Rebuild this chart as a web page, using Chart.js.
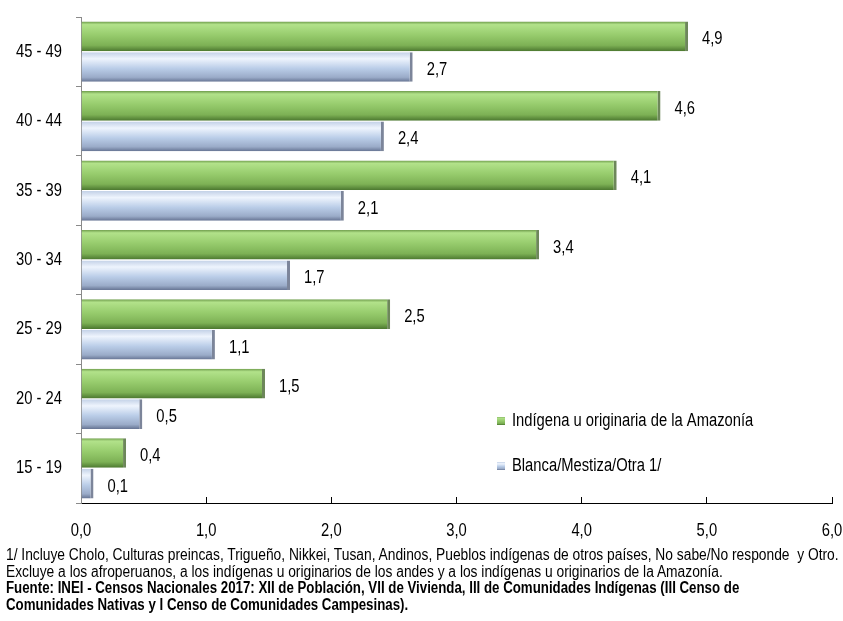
<!DOCTYPE html>
<html>
<head>
<meta charset="utf-8">
<script src="https://cdn.jsdelivr.net/npm/chart.js@4"></script>
<style>
  html, body { margin: 0; padding: 0; background: #fff; }
  #wrap { position: relative; width: 843px; height: 621px; overflow: hidden; }
  #notes {
    position: absolute; left: 6px; top: 547px; width: 1100px;
    font-family: 'Liberation Sans', Arial, sans-serif;
    font-size: 16px; line-height: 16.5px; color: #000;
    white-space: nowrap;
  }
  #notes div { transform: scaleX(0.862); transform-origin: 0 0; }
  #notes div.src { font-weight: bold; transform: scaleX(0.83); }
</style>
</head>
<body>
<div id="wrap">
  <canvas id="chart" width="843" height="621"></canvas>
  <div id="notes">
    <div>1/ Incluye Cholo, Culturas preincas, Trigueño, Nikkei, Tusan, Andinos, Pueblos indígenas de otros países, No sabe/No responde &nbsp;y Otro.</div>
    <div>Excluye a los afroperuanos, a los indígenas u originarios de los andes y a los indígenas u originarios de la Amazonía.</div>
    <div class="src">Fuente: INEI - Censos Nacionales 2017: XII de Población, VII de Vivienda, III de Comunidades Indígenas (III Censo de</div>
    <div class="src">Comunidades Nativas y I Censo de Comunidades Campesinas).</div>
  </div>
</div>
<script>
const ageGroups = ["45 - 49", "40 - 44", "35 - 39", "30 - 34", "25 - 29", "20 - 24", "15 - 19"];
// bar lengths as drawn in the picture
const amazonia = [4.85, 4.63, 4.28, 3.66, 2.47, 1.47, 0.36];
const blanca = [2.65, 2.42, 2.10, 1.67, 1.07, 0.49, 0.10];
// the numbers printed next to the bars
const amazoniaLabels = ["4,9", "4,6", "4,1", "3,4", "2,5", "1,5", "0,4"];
const blancaLabels = ["2,7", "2,4", "2,1", "1,7", "1,1", "0,5", "0,1"];
const seriesNames = ["Indígena u originaria de la Amazonía", "Blanca/Mestiza/Otra 1/"];
const xTicks = [0, 1, 2, 3, 4, 5, 6];

const FONT = "'Liberation Sans', Arial, sans-serif";
const NARROW = 0.82; // no Arial Narrow here, so squeeze the regular face

const greenStops = [[0, "#6f9d4c"], [0.1, "#b2e28a"], [0.45, "#97cc6d"], [0.8, "#7db155"], [1, "#4b772f"]];
const blueStops = [[0, "#c3d1e7"], [0.22, "#eef4fd"], [0.55, "#bacde8"], [0.85, "#9aabc8"], [1, "#667493"]];

// vertical gradient per bar, built from the bar element once it has a position
function barGradient(stops, fallback) {
  return function (ctx) {
    const el = ctx.element;
    if (!el || !el.height || isNaN(el.y)) return fallback;
    const top = el.y - el.height / 2;
    const g = ctx.chart.ctx.createLinearGradient(0, top, 0, top + el.height);
    stops.forEach(s => g.addColorStop(s[0], s[1]));
    return g;
  };
}

const fmt = v => v.toFixed(1).replace(".", ",");

function narrowText(c, text, x, y, align) {
  c.save();
  c.translate(x, y);
  c.scale(NARROW, 1);
  c.textAlign = align;
  c.fillText(text, 0, 0);
  c.restore();
}

// value labels next to the bar ends
const valueLabels = {
  id: "valueLabels",
  afterDatasetsDraw(chart) {
    const c = chart.ctx;
    c.save();
    c.font = "18px " + FONT;
    c.fillStyle = "#000";
    c.textBaseline = "middle";
    chart.data.datasets.forEach((ds, i) => {
      chart.getDatasetMeta(i).data.forEach((bar, j) => {
        narrowText(c, ds.valueLabels[j], bar.x + 14, bar.y + 3, "left");
      });
    });
    c.restore();
  }
};

// axis labels in the narrow face
const axisLabels = {
  id: "axisLabels",
  afterDraw(chart) {
    const c = chart.ctx;
    const xs = chart.scales.x, ys = chart.scales.y;
    c.save();
    c.font = "18px " + FONT;
    c.fillStyle = "#000";
    c.textBaseline = "middle";
    xTicks.forEach(v => narrowText(c, fmt(v), xs.getPixelForValue(v), xs.top + 28, "center"));
    ageGroups.forEach((lab, i) => narrowText(c, lab, ys.right - 19, ys.getPixelForValue(i), "right"));
    c.restore();
  }
};

// legend inside the plot, lower right
const insideLegend = {
  id: "insideLegend",
  afterDraw(chart) {
    const c = chart.ctx;
    const x = chart.chartArea.left + 416, ys = [421, 466];
    c.save();
    c.font = "18px " + FONT;
    c.textBaseline = "middle";
    [greenStops, blueStops].forEach((stops, i) => {
      const g = c.createLinearGradient(0, ys[i] - 4, 0, ys[i] + 4);
      stops.forEach(s => g.addColorStop(s[0], s[1]));
      c.fillStyle = g;
      c.fillRect(x, ys[i] - 4, 8, 8);
      c.fillStyle = "#000";
      narrowText(c, seriesNames[i], x + 15, ys[i], "left");
    });
    c.restore();
  }
};

const chart = new Chart(document.getElementById("chart"), {
  type: "bar",
  data: {
    labels: ageGroups,
    datasets: [
      {
        label: seriesNames[0],
        data: amazonia,
        valueLabels: amazoniaLabels,
        backgroundColor: barGradient(greenStops, "#97cc6d"),
        borderColor: "rgba(60,95,35,0.75)",
        borderWidth: { top: 0, bottom: 0, left: 0, right: 3 },
        borderSkipped: "start",
        categoryPercentage: 0.88,
        barPercentage: 0.97
      },
      {
        label: seriesNames[1],
        data: blanca,
        valueLabels: blancaLabels,
        backgroundColor: barGradient(blueStops, "#bacde8"),
        borderColor: "rgba(80,92,120,0.75)",
        borderWidth: { top: 0, bottom: 0, left: 0, right: 3 },
        borderSkipped: "start",
        categoryPercentage: 0.88,
        barPercentage: 0.97
      }
    ]
  },
  options: {
    indexAxis: "y",
    responsive: false,
    animation: false,
    layout: { padding: { top: 17, left: 0, right: 11, bottom: 83 } },
    plugins: {
      legend: { display: false },
      tooltip: { enabled: false },
      title: { display: false }
    },
    scales: {
      x: {
        min: 0,
        max: 6,
        afterBuildTicks: s => { s.ticks = xTicks.map(v => ({ value: v })); },
        afterFit: s => { s.height = 35; },
        border: { display: true, color: "#000", width: 1 },
        grid: { drawOnChartArea: false, drawTicks: true, tickLength: -6, color: "#000" },
        ticks: { display: false }
      },
      y: {
        afterFit: s => { s.width = 81; },
        border: { display: true, color: "#8a8a8a", width: 1 },
        grid: { drawOnChartArea: false, offset: true, tickLength: 5, color: "#8a8a8a" },
        ticks: { display: false }
      }
    }
  },
  plugins: [valueLabels, axisLabels, insideLegend]
});
// second pass so the gradients can read the bar positions
chart.update();
</script>
</body>
</html>
